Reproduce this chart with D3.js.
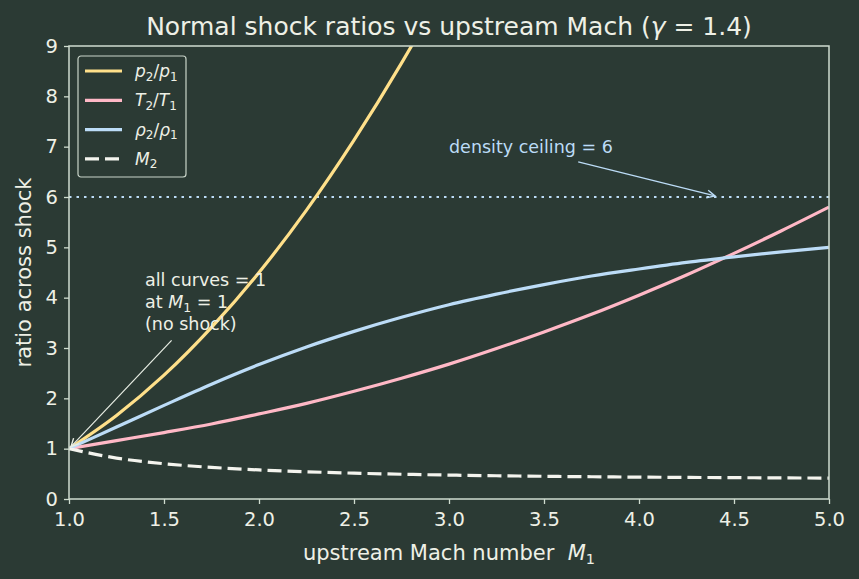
<!DOCTYPE html>
<html>
<head>
<meta charset="utf-8">
<script src="https://cdn.jsdelivr.net/npm/d3@7"></script>
<style>
  body { margin: 0; background: #2b3a34; }
  svg text { font-family: "DejaVu Sans", sans-serif; white-space: pre; }
</style>
</head>
<body>
<script>
var svgWidth = 859;
var svgHeight = 579;

// values (gamma = 1.4)
var mach = [1.0, 1.25, 1.5, 1.75, 2.0, 2.25, 2.5, 2.75, 3.0, 3.25, 3.5, 3.75, 4.0, 4.25, 4.5, 4.75, 5.0];
var pressure = [1.0, 1.66, 2.46, 3.41, 4.5, 5.74, 7.13, 8.66, 10.33, 12.16, 14.13, 16.24, 18.5, 20.91, 23.46, 26.16, 29.0];
var temperature = [1.0, 1.16, 1.32, 1.49, 1.69, 1.90, 2.14, 2.40, 2.68, 2.99, 3.32, 3.67, 4.05, 4.45, 4.88, 5.33, 5.8];
var density = [1.0, 1.43, 1.86, 2.28, 2.67, 3.02, 3.33, 3.61, 3.86, 4.07, 4.26, 4.43, 4.57, 4.70, 4.81, 4.91, 5.0];
var machDown = [1.0, 0.813, 0.701, 0.628, 0.577, 0.541, 0.513, 0.492, 0.475, 0.462, 0.451, 0.442, 0.435, 0.429, 0.424, 0.419, 0.415];
var densityCeiling = 6;

var xTicks = [1.0, 1.5, 2.0, 2.5, 3.0, 3.5, 4.0, 4.5, 5.0];
var yTicks = [0, 1, 2, 3, 4, 5, 6, 7, 8, 9];

var series = [
    { name: "p", values: pressure, color: "#ffe08a", dash: null },
    { name: "T", values: temperature, color: "#ffb8c6", dash: null },
    { name: "rho", values: density, color: "#bcdcf7", dash: null },
    { name: "M2", values: machDown, color: "#f4f4ee", dash: "14,6" }
];

var chartMargin = { top: 46, right: 30, bottom: 80, left: 69 };
var chartWidth = svgWidth - chartMargin.left - chartMargin.right;
var chartHeight = svgHeight - chartMargin.top - chartMargin.bottom;

var axisColor = "#cfdccf";
var textColor = "#eef0e6";

var svg = d3.select("body").append("svg")
    .attr("width", svgWidth)
    .attr("height", svgHeight);

svg.append("rect").attr("width", svgWidth).attr("height", svgHeight).attr("fill", "#2b3a34");

var chartGroup = svg.append("g")
    .attr("transform", `translate(${chartMargin.left}, ${chartMargin.top})`);

var x = d3.scaleLinear().domain([1, 5]).range([0, chartWidth]);
var y = d3.scaleLinear().domain([0, 9]).range([chartHeight, 0]);

chartGroup.append("clipPath").attr("id", "clip")
    .append("rect").attr("width", chartWidth).attr("height", chartHeight);

// density ceiling
chartGroup.append("line")
    .attr("x1", 0).attr("x2", chartWidth)
    .attr("y1", y(densityCeiling)).attr("y2", y(densityCeiling))
    .attr("stroke", "#bcdcf7").attr("stroke-width", 2.2)
    .attr("stroke-dasharray", "2.5,5");

var line = d3.line().curve(d3.curveMonotoneX);

var lines = chartGroup.append("g").attr("clip-path", "url(#clip)");
series.forEach(s => {
    lines.append("path")
        .datum(mach.map((m, i) => [x(m), y(s.values[i])]))
        .attr("d", line)
        .attr("fill", "none")
        .attr("stroke", s.color)
        .attr("stroke-width", 3.2)
        .attr("stroke-dasharray", s.dash);
});

// axes
var xAxis = chartGroup.append("g")
    .attr("transform", `translate(0, ${chartHeight})`)
    .call(d3.axisBottom(x).tickValues(xTicks).tickFormat(d3.format(".1f")).tickSizeOuter(0).tickSize(5).tickPadding(8));
var yAxis = chartGroup.append("g")
    .call(d3.axisLeft(y).tickValues(yTicks).tickSizeOuter(0).tickSize(5).tickPadding(6));

[xAxis, yAxis].forEach(a => {
    a.select(".domain").remove();
    a.selectAll("line").attr("stroke", axisColor).attr("stroke-width", 1.3);
    a.selectAll("text").attr("fill", textColor).style("font-size", "19.5px");
});

chartGroup.append("rect")
    .attr("width", chartWidth).attr("height", chartHeight)
    .attr("fill", "none").attr("stroke", axisColor).attr("stroke-width", 1.5);

// title and labels
var title = svg.append("text")
    .attr("x", chartMargin.left + chartWidth / 2).attr("y", 35)
    .attr("text-anchor", "middle").attr("fill", textColor)
    .style("font-size", "25px");
title.append("tspan").text("Normal shock ratios vs upstream Mach (");
title.append("tspan").attr("font-style", "italic").text("γ");
title.append("tspan").text(" = 1.4)");

var xLabel = svg.append("text")
    .attr("x", chartMargin.left + chartWidth / 2).attr("y", 560)
    .attr("text-anchor", "middle").attr("fill", textColor)
    .style("font-size", "21px");
xLabel.append("tspan").text("upstream Mach number  ");
xLabel.append("tspan").attr("font-style", "italic").text("M");
xLabel.append("tspan").attr("font-size", "14.5px").attr("dy", 4).text("1");

svg.append("text")
    .attr("transform", `translate(31, ${chartMargin.top + chartHeight / 2}) rotate(-90)`)
    .attr("text-anchor", "middle").attr("fill", textColor)
    .style("font-size", "21px")
    .text("ratio across shock");

// annotations
var defs = svg.append("defs");
function arrowHead(id, color) {
    defs.append("marker").attr("id", id)
        .attr("viewBox", "0 0 10 10").attr("refX", 9).attr("refY", 5)
        .attr("markerWidth", 10).attr("markerHeight", 10).attr("markerUnits", "userSpaceOnUse")
        .attr("orient", "auto")
        .append("path").attr("d", "M1,1 L9,5 L1,9")
        .attr("fill", "none").attr("stroke", color).attr("stroke-width", 1.4);
}
arrowHead("arrowWhite", "#e8eee4");
arrowHead("arrowBlue", "#bcdcf7");

var noShock = chartGroup.append("g");
noShock.append("line")
    .attr("x1", x(1.54)).attr("y1", y(3.15))
    .attr("x2", x(1.0) + 2).attr("y2", y(1.0) - 2)
    .attr("stroke", "#e8eee4").attr("stroke-width", 1.2)
    .attr("marker-end", "url(#arrowWhite)");
var noShockText = noShock.append("text")
    .attr("fill", textColor).style("font-size", "17.5px");
noShockText.append("tspan").attr("x", x(1.4)).attr("y", y(4.23)).text("all curves = 1");
noShockText.append("tspan").attr("x", x(1.4)).attr("y", y(3.79)).text("at ");
noShockText.append("tspan").attr("font-style", "italic").text("M");
noShockText.append("tspan").attr("font-size", "12.5px").attr("dy", 4).text("1");
noShockText.append("tspan").attr("dy", -4).text(" = 1");
noShockText.append("tspan").attr("x", x(1.4)).attr("y", y(3.36)).text("(no shock)");

chartGroup.append("line")
    .attr("x1", x(3.68)).attr("y1", y(6.7))
    .attr("x2", x(4.4)).attr("y2", y(6.02))
    .attr("stroke", "#bcdcf7").attr("stroke-width", 1.3)
    .attr("marker-end", "url(#arrowBlue)");
chartGroup.append("text")
    .attr("x", x(3.0)).attr("y", y(6.87))
    .attr("fill", "#bcdcf7").style("font-size", "17.5px")
    .text("density ceiling = 6");

// legend
var legend = svg.append("g").attr("transform", "translate(78, 56)");
legend.append("rect")
    .attr("width", 108).attr("height", 121).attr("rx", 3)
    .attr("fill", "#2b3a34").attr("stroke", "#c9d4c9").attr("stroke-width", 1.2);

var legendLabels = [
    ["p", "2", "p", "1"],
    ["T", "2", "T", "1"],
    ["ρ", "2", "ρ", "1"],
    ["M", "2", null, null]
];
series.forEach((s, i) => {
    var row = legend.append("g").attr("transform", `translate(0, ${15 + i * 29.3})`);
    row.append("line")
        .attr("x1", 7).attr("x2", 44)
        .attr("stroke", s.color).attr("stroke-width", 3.2)
        .attr("stroke-dasharray", s.dash);
    var lab = legendLabels[i];
    var t = row.append("text").attr("x", 57).attr("y", 6)
        .attr("fill", textColor).style("font-size", "17px");
    t.append("tspan").attr("font-style", "italic").text(lab[0]);
    t.append("tspan").attr("font-size", "12px").attr("dy", 3.5).text(lab[1]);
    if (lab[2]) {
        t.append("tspan").attr("dy", -3.5).text("/");
        t.append("tspan").attr("font-style", "italic").text(lab[2]);
        t.append("tspan").attr("font-size", "12px").attr("dy", 3.5).text(lab[3]);
    }
});
</script>
</body>
</html>
